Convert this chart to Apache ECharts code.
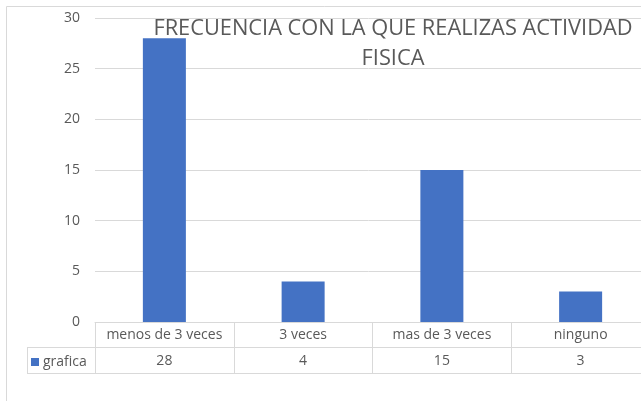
<!DOCTYPE html>
<html>
<head>
<meta charset="utf-8">
<script src="https://cdn.jsdelivr.net/npm/echarts@6/dist/echarts.min.js"></script>
<style>
  html, body { margin: 0; padding: 0; background: #fff; }
  #chart { width: 641px; height: 401px; }
</style>
</head>
<body>
<div id="chart"></div>
<script>
// datos de la grafica
const categorias = ["menos de 3 veces", "3 veces", "mas de 3 veces", "ninguno"];
const valores = [28, 4, 15, 3];
const serieNombre = "grafica";
const titulo = "FRECUENCIA CON LA QUE REALIZAS ACTIVIDAD\nFISICA";

const gris = "#595959";
const linea = "#d9d9d9";

const myChart = echarts.init(document.getElementById("chart"));

const option = {
  animation: false,
  textStyle: { fontFamily: "Open Sans" },
  title: {
    text: titulo,
    left: 388,
    top: 9,
    textAlign: "center",
    textStyle: {
      color: gris,
      fontSize: 21.8,
      fontWeight: "normal",
      lineHeight: 30,
      fontFamily: "Open Sans"
    }
  },
  legend: {
    data: [serieNombre],
    left: 31,
    top: 355,
    padding: 0,
    icon: "rect",
    itemWidth: 8,
    itemHeight: 8,
    itemGap: 4,
    textStyle: { color: gris, fontSize: 14, padding: [0, 0, 0, -1] }
  },
  grid: {
    left: 95,
    top: 18,
    width: 555,
    bottom: 79,
    outerBoundsMode: "none"
  },
  xAxis: {
    type: "category",
    data: categorias,
    axisLine: { lineStyle: { color: linea, width: 1 } },
    // lineas verticales de la tabla
    axisTick: { show: true, interval: 0, length: 51, lineStyle: { color: linea } },
    axisLabel: {
      interval: 0,
      margin: 0,
      color: gris,
      fontSize: 14,
      lineHeight: 26,
      formatter: function (v, i) {
        return v + "\n" + valores[i];
      }
    }
  },
  yAxis: {
    type: "value",
    min: 0,
    max: 30,
    interval: 5,
    axisLine: { show: false },
    axisTick: { show: false },
    axisLabel: { color: gris, fontSize: 14, margin: 15 },
    splitLine: { lineStyle: { color: linea, width: 1 } }
  },
  series: [
    {
      name: serieNombre,
      type: "bar",
      data: valores,
      barWidth: "31%",
      itemStyle: { color: "#4472c4" }
    }
  ],
  graphic: [
    // borde del area del grafico
    {
      type: "rect",
      shape: { x: 6.5, y: 6.5, width: 700, height: 500 },
      style: { fill: "none", stroke: linea, lineWidth: 1 },
      silent: true
    },
    // lineas horizontales de la tabla
    {
      type: "line",
      shape: { x1: 27, y1: 347.5, x2: 641, y2: 347.5 },
      style: { stroke: linea, lineWidth: 1 }
    },
    {
      type: "line",
      shape: { x1: 27, y1: 373.5, x2: 641, y2: 373.5 },
      style: { stroke: linea, lineWidth: 1 }
    },
    {
      type: "line",
      shape: { x1: 27.5, y1: 347.5, x2: 27.5, y2: 373.5 },
      style: { stroke: linea, lineWidth: 1 }
    }
  ]
};

myChart.setOption(option);
</script>
</body>
</html>
